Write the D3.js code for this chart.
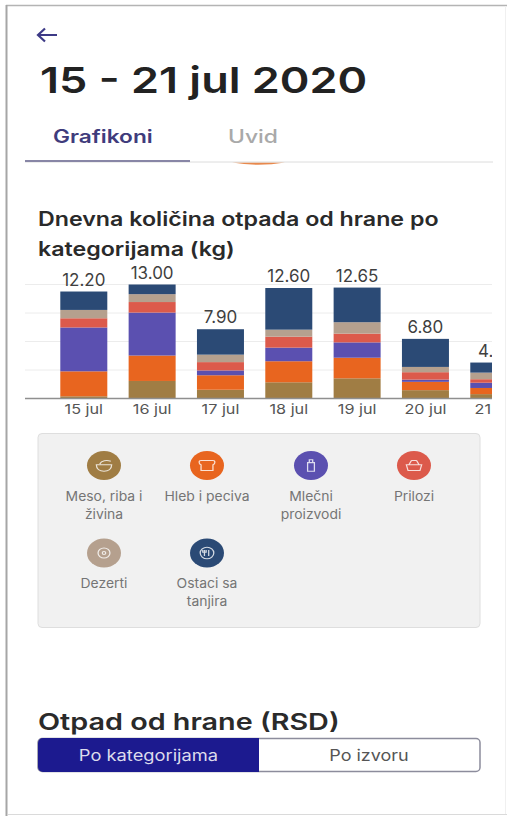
<!DOCTYPE html>
<html>
<head>
<meta charset="utf-8">
<script src="https://cdn.jsdelivr.net/npm/d3@7"></script>
<style>
  html, body { margin: 0; padding: 0; background: #fff; }
  svg { display: block; font-family: Inter, "Noto Sans", sans-serif; }
</style>
</head>
<body>
<svg id="screen" width="507" height="816"></svg>
<script>
// Days and daily totals in kg
const days = ["15 jul", "16 jul", "17 jul", "18 jul", "19 jul", "20 jul", "21 jul"];
const totalLabels = ["12.20", "13.00", "7.90", "12.60", "12.65", "6.80", "4.10"];

// Waste per category in kg, one value per day
const meso = [0.25, 2.0, 1.0, 1.85, 2.3, 0.95, 0.5];
const hleb = [2.85, 2.9, 1.65, 2.4, 2.35, 0.95, 0.7];
const mlecni = [5.0, 4.9, 0.55, 1.55, 1.75, 0.25, 0.6];
const prilozi = [1.05, 1.2, 0.95, 1.25, 1.0, 0.85, 0.4];
const dezerti = [0.95, 0.9, 0.85, 0.8, 1.3, 0.6, 0.75];
const ostaci = [2.1, 1.1, 2.9, 4.75, 3.95, 3.2, 1.15];

const seriesKeys = ["meso", "hleb", "mlecni", "prilozi", "dezerti", "ostaci"];
const seriesValues = [meso, hleb, mlecni, prilozi, dezerti, ostaci];
const seriesColors = ["#a07d44", "#e8651f", "#5b50b0", "#dc5a4b", "#b5a08e", "#2b4a75"];
const legendLabels = [["Meso, riba i", "živina"], ["Hleb i peciva"], ["Mlečni", "proizvodi"], ["Prilozi"], ["Dezerti"], ["Ostaci sa", "tanjira"]];
const yTicks = [0, 3.25, 6.5, 9.75, 13];

const svg = d3.select("#screen");

// Widens text horizontally: the screen's typeface runs broader than its height
function widen(selection, factor) {
  selection.each(function () {
    d3.select(this)
      .attr("textLength", this.getComputedTextLength() * factor)
      .attr("lengthAdjust", "spacingAndGlyphs");
  });
  return selection;
}

// Device screenshot frame
svg.append("line").attr("x1", 6).attr("x2", 507).attr("y1", 5.5).attr("y2", 5.5).attr("stroke", "#b4b4b4").attr("stroke-width", 1.5);
svg.append("line").attr("x1", 6.5).attr("x2", 6.5).attr("y1", 5).attr("y2", 816).attr("stroke", "#a6a6a6").attr("stroke-width", 2);
svg.append("line").attr("x1", 8).attr("x2", 507).attr("y1", 814.5).attr("y2", 814.5).attr("stroke", "#dadada");
svg.append("line").attr("x1", 505.5).attr("x2", 505.5).attr("y1", 6).attr("y2", 814).attr("stroke", "#f0f0f0");

// Header
svg.append("path").attr("d", "M38 35H57M45 28.5L38 35L45 41.5")
  .attr("fill", "none").attr("stroke", "#3d3a86").attr("stroke-width", 2.2);
widen(svg.append("text").attr("x", 40).attr("y", 93).attr("font-size", 36).attr("font-weight", 600)
  .attr("fill", "#222").text("15 - 21 jul 2020"), 1.25);

// Tabs
widen(svg.append("text").attr("x", 53).attr("y", 142.5).attr("font-size", 18).attr("font-weight", 600)
  .attr("fill", "#3f3c7c").text("Grafikoni"), 1.26);
widen(svg.append("text").attr("x", 228).attr("y", 142.5).attr("font-size", 18).attr("font-weight", 500)
  .attr("fill", "#a9a9a9").text("Uvid"), 1.27);
svg.append("path").attr("d", "M232 162.5Q258 167 285 162.5Z").attr("fill", "#e8894d");
svg.append("line").attr("x1", 25).attr("x2", 493).attr("y1", 162).attr("y2", 162).attr("stroke", "#dcdcdc");
svg.append("line").attr("x1", 25).attr("x2", 190).attr("y1", 161).attr("y2", 161).attr("stroke", "#8886a6").attr("stroke-width", 2);

// Chart heading
widen(svg.append("g").selectAll("text").data(["Dnevna količina otpada od hrane po", "kategorijama (kg)"]).join("text")
  .attr("x", 38).attr("y", (d, i) => 226 + i * 30)
  .attr("font-size", 19.5).attr("font-weight", 600).attr("fill", "#2a2a2a").text(d => d), 1.19);

// Scales
const plotLeft = 25, plotRight = 492, barsLeft = 60.3, barStep = 68.33, barWidth = 47;
const x = d3.scaleBand().domain(days)
  .range([barsLeft, barsLeft + barStep * (days.length - 1) + barWidth])
  .paddingInner(1 - barWidth / barStep).paddingOuter(0);
const y = d3.scaleLinear().domain([0, 13]).range([398.5, 284.5]);

const rows = days.map((d, i) => {
  const r = { day: d };
  seriesKeys.forEach((k, j) => { r[k] = seriesValues[j][i]; });
  return r;
});
const stacked = d3.stack().keys(seriesKeys)(rows);

// The plot scrolls horizontally, so everything past its right edge is cut off
svg.append("clipPath").attr("id", "plot-clip").append("rect")
  .attr("x", plotLeft).attr("y", 260).attr("width", plotRight - plotLeft).attr("height", 170);
const plot = svg.append("g").attr("clip-path", "url(#plot-clip)");

plot.append("g").selectAll("line").data(yTicks.slice(1)).join("line")
  .attr("x1", plotLeft).attr("x2", plotRight)
  .attr("y1", d => y(d)).attr("y2", d => y(d))
  .attr("stroke", "#ececec");

plot.append("g").selectAll("g").data(stacked).join("g")
  .attr("fill", (d, i) => seriesColors[i])
  .selectAll("rect").data(d => d).join("rect")
  .attr("x", d => x(d.data.day))
  .attr("width", x.bandwidth())
  .attr("y", d => y(d[1]))
  .attr("height", d => y(d[0]) - y(d[1]));

plot.append("g").selectAll("text").data(days).join("text")
  .attr("x", d => x(d) + x.bandwidth() / 2)
  .attr("y", (d, i) => y(stacked[stacked.length - 1][i][1]) - 6)
  .attr("text-anchor", "middle").attr("font-size", 17).attr("fill", "#3f3f3f")
  .text((d, i) => totalLabels[i]);

const xAxis = plot.append("g").attr("transform", `translate(0,${y(0)})`)
  .call(d3.axisBottom(x).tickSize(0).tickPadding(6));
xAxis.select(".domain").remove();
xAxis.selectAll("text").attr("font-size", 13.5).attr("fill", "#555").attr("font-family", "Inter, 'Noto Sans', sans-serif");
widen(xAxis.selectAll("text"), 1.2);
plot.append("line").attr("x1", plotLeft).attr("x2", plotRight).attr("y1", y(0)).attr("y2", y(0))
  .attr("stroke", "#8f8f8f").attr("stroke-width", 1.5);

// Legend panel
svg.append("rect").attr("x", 38).attr("y", 433.5).attr("width", 442).attr("height", 194).attr("rx", 4)
  .attr("fill", "#f1f1f1").attr("stroke", "#dedede");

const legendX = [104, 207, 311, 414];
const legendY = [465.5, 553];
const legend = svg.append("g").selectAll("g").data(seriesKeys).join("g")
  .attr("transform", (d, i) => `translate(${legendX[i % 4]},${legendY[Math.floor(i / 4)]})`);
legend.append("ellipse").attr("rx", 17).attr("ry", 14.5).attr("fill", (d, i) => seriesColors[i]);

// White pictograms inside the legend discs
const glyphs = [
  "M-9 -1H9C9 5 5 8 0 8S-9 5 -9 -1ZM-5 -2C-3 -7 3 -8 8 -6",
  "M-7 -7H7C10 -7 10 -2 7 -1V7H-7V-1C-10 -2 -10 -7 -7 -7Z",
  "M-4 -4H4V8H-4ZM-2 -8H2V-4H-2Z",
  "M-9 -1H9L7 7H-7ZM-6 -1L-3 -7M6 -1L3 -7M-3 -7H3",
  "M-7 0A7 7 0 1 1 7 0A7 7 0 1 1 -7 0ZM-2 0A2 2 0 1 0 2 0A2 2 0 1 0 -2 0Z",
  "M-8 0A8 8 0 1 1 8 0A8 8 0 1 1 -8 0ZM-3 -4V4M2 -4V4M-5 -4V-1H-1V-4"
];
legend.append("path").attr("d", (d, i) => glyphs[i]).attr("fill", "none")
  .attr("transform", "scale(0.85,0.72)")
  .attr("stroke", "#fff").attr("stroke-opacity", 0.8).attr("stroke-width", 1.5);
legend.each(function (k, i) {
  const labels = d3.select(this).selectAll("text.legend-label").data(legendLabels[i]).join("text")
    .attr("class", "legend-label")
    .attr("text-anchor", "middle").attr("font-size", 13).attr("fill", "#757575")
    .attr("y", (d, j) => 35 + j * 18).text(d => d);
  widen(labels, 1.07);
});

// Second section heading and segmented switch
widen(svg.append("text").attr("x", 38).attr("y", 730).attr("font-size", 23).attr("font-weight", 600)
  .attr("fill", "#2a2a2a").text("Otpad od hrane (RSD)"), 1.25);
svg.append("rect").attr("x", 38).attr("y", 738.5).attr("width", 442).attr("height", 33).attr("rx", 4)
  .attr("fill", "#fff").attr("stroke", "#8c8c9c").attr("stroke-width", 1.5);
svg.append("path").attr("d", "M43 738H259V772H43A5 5 0 0 1 38 767V743A5 5 0 0 1 43 738Z").attr("fill", "#1c1a8f");
widen(svg.append("text").attr("x", 148.5).attr("y", 761).attr("text-anchor", "middle").attr("font-size", 15.5)
  .attr("fill", "#dcdcec").text("Po kategorijama"), 1.18);
widen(svg.append("text").attr("x", 369).attr("y", 761).attr("text-anchor", "middle").attr("font-size", 15.5)
  .attr("fill", "#555").text("Po izvoru"), 1.16);
</script>
</body>
</html>
